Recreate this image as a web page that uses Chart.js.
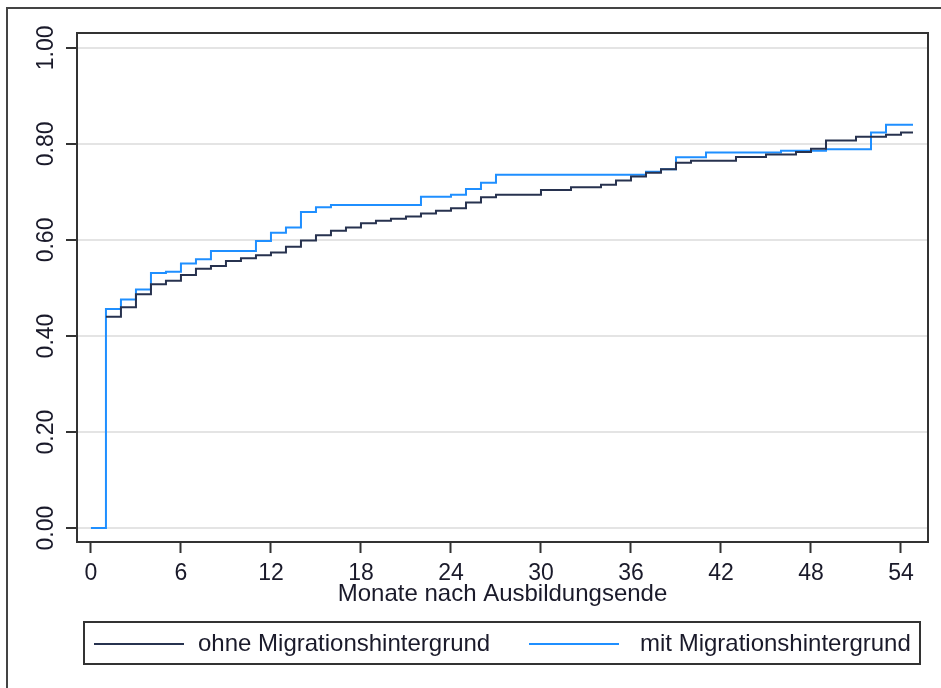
<!DOCTYPE html>
<html>
<head>
<meta charset="utf-8">
<script src="https://cdn.jsdelivr.net/npm/chart.js@4"></script>
<style>
html, body { margin: 0; padding: 0; background: #fff; }
canvas { display: block; }
</style>
</head>
<body>
<canvas id="chart" width="941" height="688"></canvas>
<script>
const seriesLabels = ["ohne Migrationshintergrund", "mit Migrationshintergrund"];
const xTicks = [0, 6, 12, 18, 24, 30, 36, 42, 48, 54];
const yTicks = [0, 0.2, 0.4, 0.6, 0.8, 1.0];

// step points: value holds from this month until the next one
const ohneMonths = [1, 2, 3, 4, 5, 6, 7, 8, 9, 10, 11, 12, 13, 14, 15, 16, 17, 18, 19, 20, 21, 22, 23, 24, 25, 26, 27,
	30, 32, 34, 35, 36, 37, 38, 39, 40, 43, 45, 47, 48, 49, 51, 53, 54, 54.8];
const ohneValues = [0.440, 0.460, 0.487, 0.508, 0.515, 0.527, 0.540, 0.546, 0.556, 0.562, 0.568, 0.574, 0.586, 0.599,
	0.610, 0.619, 0.626, 0.635, 0.640, 0.644, 0.649, 0.655, 0.661, 0.666, 0.678, 0.689, 0.694,
	0.704, 0.710, 0.715, 0.724, 0.732, 0.740, 0.747, 0.761, 0.765, 0.773, 0.778, 0.783, 0.790, 0.807, 0.815, 0.819, 0.824, 0.824];

const mitMonths = [0, 1, 2, 3, 4, 5, 6, 7, 8, 11, 12, 13, 14, 15, 16, 22, 24, 25, 26, 27, 37, 38, 39, 41, 46, 49, 52, 53, 54.8];
const mitValues = [0, 0.456, 0.476, 0.497, 0.531, 0.534, 0.551, 0.560, 0.577, 0.598, 0.615, 0.626, 0.658, 0.668, 0.673,
	0.690, 0.694, 0.706, 0.719, 0.736, 0.742, 0.747, 0.772, 0.782, 0.786, 0.789, 0.824, 0.840, 0.840];

const NAVY = "#27324f";
const BLUE = "#1f8fff";
const TEXT = "#1a1a2a";
const FONT = "'Liberation Sans', Arial, sans-serif";

function toPoints(months, values) {
	return months.map((m, i) => ({ x: m, y: values[i] }));
}

const framePlugin = {
	id: "frame",
	beforeDraw(chart) {
		const { ctx, width, height } = chart;
		ctx.save();
		ctx.fillStyle = "#fff";
		ctx.fillRect(0, 0, width, height);
		ctx.strokeStyle = "#444";
		ctx.lineWidth = 2;
		ctx.strokeRect(7, 8, width, height);
		ctx.restore();
	},
	afterDraw(chart) {
		const { ctx, chartArea } = chart;
		ctx.save();
		ctx.strokeStyle = "#333";
		ctx.lineWidth = 2;
		ctx.strokeRect(chartArea.left, chartArea.top, chartArea.right - chartArea.left, chartArea.bottom - chartArea.top);

		// legend box
		ctx.strokeRect(84, 622, 836, 42);
		const colors = [NAVY, BLUE];
		const lineX = [94, 529];
		const textX = [198, 640];
		ctx.font = "24px " + FONT;
		ctx.textBaseline = "alphabetic";
		ctx.fillStyle = TEXT;
		seriesLabels.forEach((label, i) => {
			ctx.strokeStyle = colors[i];
			ctx.lineWidth = 2;
			ctx.beginPath();
			ctx.moveTo(lineX[i], 644);
			ctx.lineTo(lineX[i] + 90, 644);
			ctx.stroke();
			ctx.fillText(label, textX[i], 651);
		});
		ctx.restore();
	},
};

new Chart(document.getElementById("chart").getContext("2d"), {
	type: "line",
	data: {
		datasets: [
			{
				label: seriesLabels[0],
				data: toPoints(ohneMonths, ohneValues),
				borderColor: NAVY,
				borderWidth: 2,
				stepped: true,
				pointRadius: 0,
				fill: false,
			},
			{
				label: seriesLabels[1],
				data: toPoints(mitMonths, mitValues),
				borderColor: BLUE,
				borderWidth: 2,
				stepped: true,
				pointRadius: 0,
				fill: false,
			},
		],
	},
	options: {
		responsive: false,
		animation: false,
		devicePixelRatio: 1,
		layout: { padding: { left: 7, top: 33, right: 13, bottom: 79 } },
		plugins: {
			legend: { display: false },
			tooltip: { enabled: false },
		},
		scales: {
			x: {
				type: "linear",
				min: -0.93,
				max: 55.8,
				afterBuildTicks: (s) => { s.ticks = xTicks.map((v) => ({ value: v })); },
				afterFit: (s) => { s.height = 67; },
				grid: { drawOnChartArea: false, tickColor: "#333", tickLength: 11, tickWidth: 2 },
				border: { color: "#333", width: 2 },
				ticks: {
					autoSkip: false,
					minRotation: 0,
					maxRotation: 0,
					padding: 7,
					color: TEXT,
					font: { family: FONT, size: 23 },
				},
				title: {
					display: true,
					text: "Monate nach Ausbildungsende",
					color: TEXT,
					font: { family: FONT, size: 24 },
					padding: { top: 0, bottom: 0 },
				},
			},
			y: {
				type: "linear",
				min: -0.029,
				max: 1.031,
				afterBuildTicks: (s) => { s.ticks = yTicks.map((v) => ({ value: v })); },
				afterFit: (s) => { s.width = 70; },
				grid: { color: "#e4e4e4", lineWidth: 2, tickColor: "#333", tickLength: 11, tickWidth: 2 },
				border: { color: "#333", width: 2 },
				ticks: {
					minRotation: 90,
					maxRotation: 90,
					crossAlign: "center",
					padding: -3,
					color: TEXT,
					font: { family: FONT, size: 23 },
					callback: (v) => v.toFixed(2),
				},
			},
		},
	},
	plugins: [framePlugin],
});
</script>
</body>
</html>
